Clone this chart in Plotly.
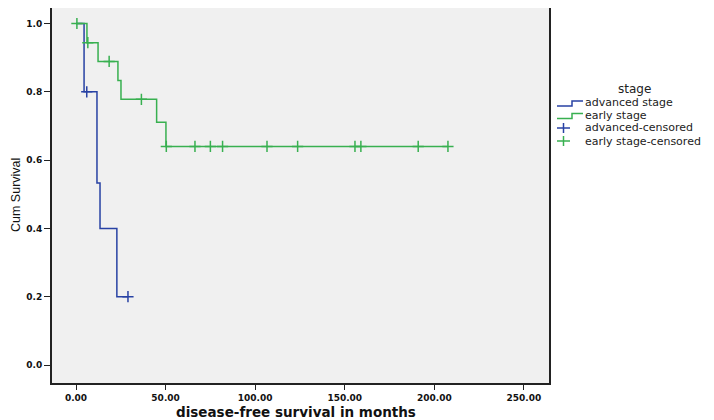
import plotly.graph_objects as go

# Kaplan-Meier step data
adv_time = [0, 4.5, 11.7, 13.4, 22.8, 29]
adv_surv = [1.0, 0.8, 0.533, 0.4, 0.2, 0.2]
adv_cens_time = [6.0, 29]
adv_cens_surv = [0.8, 0.2]

early_time = [0, 6.1, 12.3, 23.4, 25.1, 45, 50.2, 207.6]
early_surv = [1.0, 0.944, 0.889, 0.833, 0.778, 0.711, 0.64, 0.64]
early_cens_time = [0.5, 6.6, 18.5, 36.5, 50.4, 66.4, 75, 81.8, 106.6, 123.7, 155.7, 159, 191, 207.6]
early_cens_surv = [1.0, 0.944, 0.889, 0.778, 0.64, 0.64, 0.64, 0.64, 0.64, 0.64, 0.64, 0.64, 0.64, 0.64]

x_ticks = [0, 50, 100, 150, 200, 250]
y_ticks = [0.0, 0.2, 0.4, 0.6, 0.8, 1.0]

legend_labels = ['advanced stage', 'early stage', 'advanced-censored', 'early stage-censored']

BLUE = '#2842a4'
GREEN = '#38b050'
legend_colors = [BLUE, GREEN, BLUE, GREEN]

fig = go.Figure()

fig.add_trace(go.Scatter(x=adv_time, y=adv_surv, mode='lines', line_shape='hv',
                         line=dict(color=BLUE, width=1.5), name=legend_labels[0]))
fig.add_trace(go.Scatter(x=early_time, y=early_surv, mode='lines', line_shape='hv',
                         line=dict(color=GREEN, width=1.5), name=legend_labels[1]))
fig.add_trace(go.Scatter(x=adv_cens_time, y=adv_cens_surv, mode='markers',
                         marker=dict(symbol='cross-thin', size=8, line=dict(color=BLUE, width=1.5)),
                         name=legend_labels[2]))
fig.add_trace(go.Scatter(x=early_cens_time, y=early_cens_surv, mode='markers',
                         marker=dict(symbol='cross-thin', size=8, line=dict(color=GREEN, width=1.5)),
                         name=legend_labels[3]))

# the page body has an 8px margin, so the figure is 8px smaller and the
# pixel positions below are screen positions (plot area x 52..549, y 8..383)
PW, PH = 497.0, 375.0
def px(x):
    return (x - 52) / PW
def py(y):
    return (383 - y) / PH

# hand-made legend (SPSS style, tighter than plotly's own)
fig.add_annotation(x=px(634), y=py(89), xref='paper', yref='paper', text='stage',
                   showarrow=False, xanchor='center', yanchor='middle',
                   font=dict(size=12, family='DejaVu Sans', color='#222222'))
entry_y = [103, 115.5, 128, 141]
for i, (lab, col, yy) in enumerate(zip(legend_labels, legend_colors, entry_y)):
    fig.add_annotation(x=px(583), y=py(yy), xref='paper', yref='paper', text=lab,
                       showarrow=False, xanchor='left', yanchor='middle',
                       font=dict(size=11, family='DejaVu Sans', color='#222222'))
    if i < 2:
        path = 'M %f %f L %f %f L %f %f L %f %f' % (
            px(557), py(yy + 3), px(572), py(yy + 3), px(572), py(yy - 2), px(583), py(yy - 2))
        fig.add_shape(type='path', path=path, xref='paper', yref='paper',
                      line=dict(color=col, width=1.5))
    else:
        fig.add_shape(type='line', xref='paper', yref='paper', x0=px(557), x1=px(570),
                      y0=py(yy), y1=py(yy), line=dict(color=col, width=1.5))
        fig.add_shape(type='line', xref='paper', yref='paper', x0=px(563.5), x1=px(563.5),
                      y0=py(yy - 5), y1=py(yy + 5), line=dict(color=col, width=1.5))

# axis titles
fig.add_annotation(x=px(296), y=py(411.5), xref='paper', yref='paper',
                   text='<b>disease-free survival in months</b>', showarrow=False,
                   xanchor='center', yanchor='middle',
                   font=dict(size=13.5, family='DejaVu Sans', color='#111111'))
fig.add_annotation(x=px(16), y=py(195), xref='paper', yref='paper',
                   text='Cum Survival', showarrow=False, textangle=-90,
                   xanchor='center', yanchor='middle',
                   font=dict(size=12.5, family='Liberation Sans', color='#111111'))

fig.update_layout(
    width=706, height=412,
    margin=dict(l=44, r=165, t=0, b=37),
    plot_bgcolor='#f0f0f0',
    paper_bgcolor='white',
    font=dict(family='Liberation Sans', color='#111111'),
    showlegend=False,
)

fig.update_xaxes(
    range=[-13.4, 264], tickvals=x_ticks, ticktext=['%.2f' % v for v in x_ticks],
    showgrid=False, zeroline=False, showline=True, linecolor='#222222', linewidth=2,
    mirror=True, ticks='outside', ticklen=5, tickcolor='#222222', automargin=False,
    tickfont=dict(size=9, family='DejaVu Sans', weight='bold'),
)
fig.update_yaxes(
    range=[-0.0527, 1.0454], tickvals=y_ticks, ticktext=['%.1f' % v for v in y_ticks],
    showgrid=False, zeroline=False, showline=True, linecolor='#222222', linewidth=2,
    mirror=True, ticks='outside', ticklen=6, tickcolor='#222222', automargin=False,
    tickfont=dict(size=9, family='DejaVu Sans', weight='bold'),
)

fig.write_html("out.html")
